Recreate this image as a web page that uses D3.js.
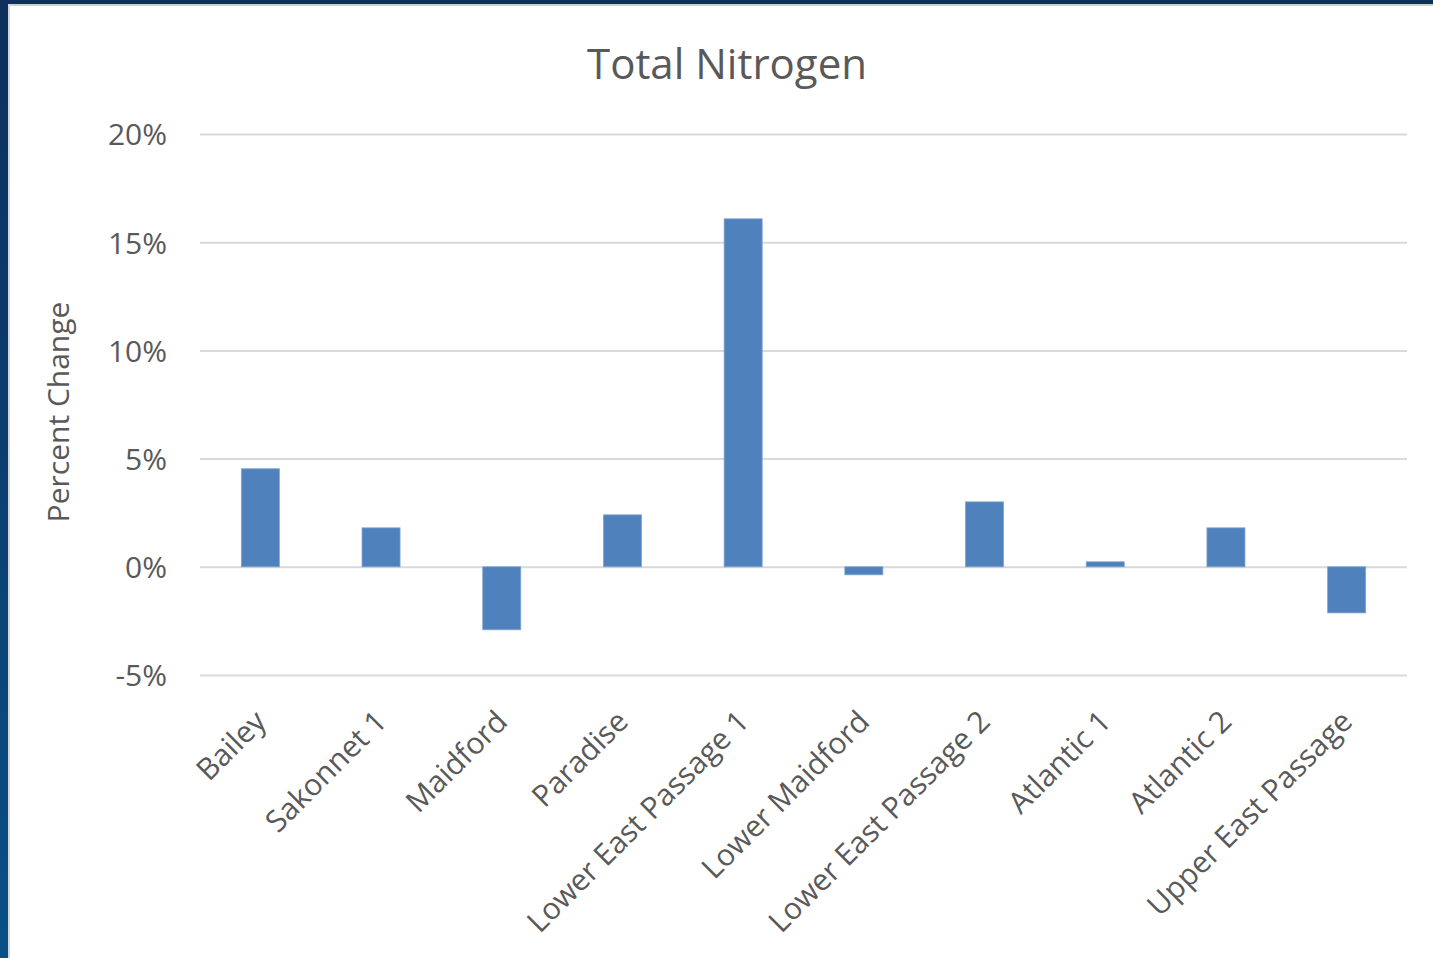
<!DOCTYPE html>
<html>
<head>
<meta charset="utf-8">
<script src="https://cdn.jsdelivr.net/npm/d3@7"></script>
<style>
  html, body { margin: 0; padding: 0; background: #fff; overflow: hidden; }
  svg { display: block; }
</style>
</head>
<body>
<svg width="1433" height="958"></svg>
<script>
// chart data
var sites = ["Bailey", "Sakonnet 1", "Maidford", "Paradise", "Lower East Passage 1",
             "Lower Maidford", "Lower East Passage 2", "Atlantic 1", "Atlantic 2", "Upper East Passage"];
var pctChange = [4.53, 1.80, -2.91, 2.40, 16.08, -0.37, 3.00, 0.23, 1.80, -2.13];
var yTicks = [-5, 0, 5, 10, 15, 20];

var svg = d3.select("svg"),
    font = "'Open Sans', Lato, sans-serif",
    textColor = "#595959";

// slide frame
var defs = svg.append("defs");
var grad = defs.append("linearGradient").attr("id", "edge")
    .attr("x1", 0).attr("y1", 0).attr("x2", 0).attr("y2", 1);
grad.append("stop").attr("offset", "0%").attr("stop-color", "#0c2f5c");
grad.append("stop").attr("offset", "100%").attr("stop-color", "#0a5086");

svg.append("rect").attr("x", 0).attr("y", 0).attr("width", 1433).attr("height", 4).attr("fill", "#0c2f5c");
svg.append("rect").attr("x", 0).attr("y", 0).attr("width", 8).attr("height", 958).attr("fill", "url(#edge)");
svg.append("rect").attr("x", 8).attr("y", 4).attr("width", 1425).attr("height", 2).attr("fill", "#cfcfcf");
svg.append("rect").attr("x", 8).attr("y", 4).attr("width", 2).attr("height", 954).attr("fill", "#d6d6d6");

var margin = {top: 134, right: 26, bottom: 283, left: 200},
    width = 1433 - margin.left - margin.right,
    height = 958 - margin.top - margin.bottom,
    g = svg.append("g").attr("transform", "translate(" + margin.left + "," + margin.top + ")");

var x = d3.scaleBand().domain(sites).range([0, width]).paddingInner(0.685).paddingOuter(0.3425),
    y = d3.scaleLinear().domain([-5, 20]).range([height, 0]);

// gridlines + y labels
g.append("g")
    .call(d3.axisLeft(y).tickValues(yTicks).tickSize(-width).tickFormat(function(d) { return d + "%"; }))
    .call(function(a) {
      a.select(".domain").remove();
      a.selectAll(".tick line").attr("stroke", "#d9d9d9").attr("stroke-width", 2);
      a.selectAll(".tick text")
        .attr("x", -33)
        .attr("dy", "0.36em")
        .attr("fill", textColor)
        .style("font", "30px " + font);
    });

// bars
g.selectAll(".bar")
    .data(pctChange)
    .enter().append("rect")
      .attr("class", "bar")
      .attr("x", function(d, i) { return x(sites[i]); })
      .attr("width", x.bandwidth())
      .attr("y", function(d) { return y(Math.max(0, d)); })
      .attr("height", function(d) { return Math.abs(y(d) - y(0)); })
      .attr("fill", "#4f81bd")
      .attr("stroke", "#7fa3d1")
      .attr("stroke-width", 0.8);

// category labels
g.append("g")
    .attr("transform", "translate(0," + height + ")")
    .call(d3.axisBottom(x).tickSize(0).tickPadding(0))
    .call(function(a) {
      a.select(".domain").remove();
      a.selectAll(".tick text")
        .attr("text-anchor", "end")
        .attr("fill", textColor)
        .style("font", "30px " + font)
        .attr("transform", "translate(0,41) rotate(-45)")
        .attr("dy", "0.35em");
    });

// title
svg.append("text")
    .attr("x", 727).attr("y", 79)
    .attr("text-anchor", "middle")
    .attr("fill", textColor)
    .style("font", "42px " + font)
    .text("Total Nitrogen");

// axis title
svg.append("text")
    .attr("transform", "translate(69,412) rotate(-90)")
    .attr("text-anchor", "middle")
    .attr("fill", textColor)
    .style("font", "30px " + font)
    .text("Percent Change");
</script>
</body>
</html>
